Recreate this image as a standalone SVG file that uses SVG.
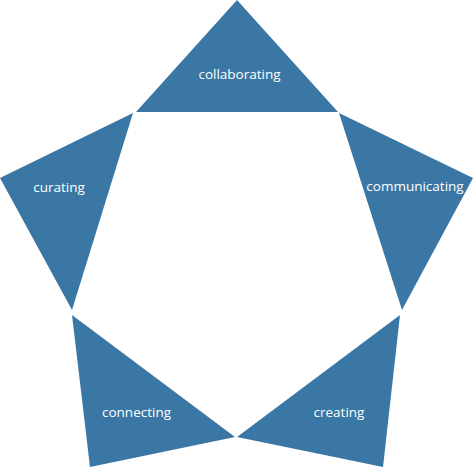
<svg xmlns="http://www.w3.org/2000/svg" width="473" height="468" viewBox="0 0 473 468">
<style>
.tri{fill:#3a77a5;}
.lbl{fill:#ffffff;font-family:"Open Sans","Liberation Sans",sans-serif;font-size:13.5px;text-anchor:middle;}
</style>
<rect width="473" height="468" fill="#ffffff"/>
<g id="collaborating">
<polygon class="tri" points="237,0 136,112 338,112"/>
<text class="lbl" x="239.5" y="79">collaborating</text>
</g>
<g id="curating">
<polygon class="tri" points="133,113 0,178 72,310"/>
<text class="lbl" x="59" y="192">curating</text>
</g>
<g id="communicating">
<polygon class="tri" points="339,113 473,178 402,310"/>
<text class="lbl" x="415" y="191">communicating</text>
</g>
<g id="connecting">
<polygon class="tri" points="72,315 90,467 235,437"/>
<text class="lbl" x="136.5" y="417">connecting</text>
</g>
<g id="creating">
<polygon class="tri" points="400,315 383,467 237,437"/>
<text class="lbl" x="339" y="417">creating</text>
</g>
<g id="connectors"></g>
</svg>
